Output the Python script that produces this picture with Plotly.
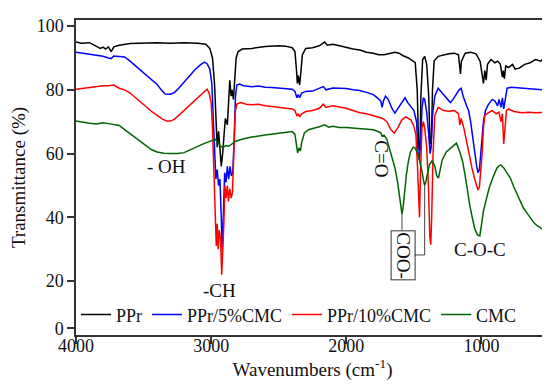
import plotly.graph_objects as go

# ---------------- data ----------------
ppr_wn = [4000, 3960, 3900, 3860, 3820, 3800, 3780, 3760, 3740, 3720, 3680, 3600, 3500, 3400, 3300, 3200,
          3100, 3040, 3010, 2990, 2975, 2965, 2955, 2945, 2935, 2925, 2915, 2905, 2895, 2880, 2870, 2862,
          2852, 2845, 2835, 2825, 2815, 2800, 2770, 2700, 2600, 2500, 2450, 2400, 2380, 2370, 2362, 2355,
          2345, 2335, 2325, 2300, 2250, 2200, 2160, 2140, 2100, 2050, 2000, 1950, 1900, 1850, 1800, 1760,
          1720, 1680, 1640, 1610, 1580, 1540, 1510, 1490, 1475, 1465, 1455, 1448, 1435, 1420, 1405, 1390,
          1380, 1370, 1362, 1350, 1320, 1280, 1240, 1200, 1170, 1160, 1155, 1148, 1120, 1080, 1040, 1010,
          995, 985, 975, 965, 955, 930, 900, 880, 860, 845, 838, 830, 820, 800, 770, 750, 720, 680, 640,
          600, 560, 530, 500]
ppr_t = [95.0, 94.6, 94.8, 94.0, 93.0, 93.4, 92.8, 93.5, 92.0, 93.5, 94.0, 94.5, 94.7, 94.8, 94.6, 94.8,
         94.6, 94.3, 93.0, 90.0, 82.0, 72.0, 62.0, 67.0, 60.0, 56.0, 60.0, 66.0, 71.0, 69.0, 76.0, 83.0,
         78.0, 80.0, 77.0, 84.0, 90.0, 92.0, 92.8, 93.0, 93.6, 93.8, 93.7, 93.2, 92.0, 87.0, 82.0, 84.5,
         81.5, 86.0, 91.0, 93.0, 93.2, 93.8, 95.0, 94.0, 94.3, 93.8, 93.2, 92.8, 92.5, 91.8, 91.5, 91.0,
         91.0, 91.3, 91.8, 91.5, 90.7, 90.0, 89.0, 88.5, 80.0, 62.0, 61.0, 78.0, 89.5, 90.5, 88.0, 78.0,
         63.0, 65.0, 80.0, 89.0, 90.5, 91.0, 91.3, 91.5, 91.0, 87.0, 85.0, 89.0, 91.5, 91.8, 91.3, 89.0,
         84.0, 82.0, 86.0, 83.0, 88.0, 89.5, 88.5, 89.0, 88.0, 84.0, 86.0, 83.5, 87.5, 87.0, 88.0, 86.5,
         86.8, 88.0, 88.5, 89.5, 89.0, 90.5, 90.0]

p5_wn = [4000, 3950, 3900, 3850, 3800, 3760, 3740, 3720, 3680, 3640, 3600, 3560, 3520, 3480, 3440, 3400,
         3370, 3340, 3300, 3270, 3240, 3200, 3160, 3120, 3080, 3050, 3030, 3010, 2995, 2985, 2975, 2965,
         2955, 2945, 2935, 2925, 2918, 2910, 2900, 2890, 2880, 2870, 2860, 2850, 2840, 2830, 2820, 2810,
         2790, 2760, 2700, 2650, 2600, 2550, 2500, 2450, 2400, 2380, 2365, 2355, 2345, 2330, 2300, 2250,
         2200, 2170, 2150, 2100, 2050, 2000, 1950, 1900, 1850, 1800, 1770, 1745, 1735, 1725, 1710, 1690,
         1660, 1640, 1620, 1590, 1565, 1545, 1520, 1500, 1480, 1468, 1460, 1452, 1440, 1430, 1420, 1405,
         1390, 1380, 1372, 1362, 1345, 1320, 1300, 1270, 1250, 1230, 1210, 1190, 1165, 1150, 1135, 1110,
         1095, 1080, 1065, 1050, 1035, 1025, 1015, 1005, 995, 985, 970, 950, 920, 900, 880, 870, 855,
         845, 835, 825, 810, 780, 720, 650, 600, 550, 500]
p5_t = [91.8, 91.5, 91.0, 90.8, 90.5, 90.0, 89.8, 90.6, 90.5, 90.3, 89.0, 87.5, 86.0, 84.5, 83.0, 81.7,
        80.0, 78.7, 78.6, 79.2, 80.5, 82.5, 84.5, 86.3, 87.8, 88.7, 88.2, 86.5, 82.0, 74.0, 62.0, 52.0,
        55.0, 50.0, 52.0, 40.0, 29.5, 40.0, 54.0, 51.0, 56.0, 52.0, 56.0, 53.0, 54.0, 64.0, 78.0, 81.5,
        81.8, 81.3, 81.0, 81.2, 80.8, 80.7, 80.5, 80.5, 80.2, 79.5, 77.5, 78.5, 77.5, 79.0, 79.5, 79.6,
        80.5, 81.0, 80.0, 80.6, 80.5, 80.4, 80.0, 79.8, 79.2, 78.5, 77.5, 76.5, 74.5, 76.5, 78.0, 77.0,
        74.0, 72.7, 74.0, 76.0, 77.5, 76.0, 74.5, 73.5, 70.0, 60.0, 58.0, 62.0, 74.0, 77.5, 77.0, 73.0,
        66.0, 60.0, 62.0, 72.0, 78.0, 80.5, 79.5, 78.0, 77.0, 76.0, 77.0, 78.5, 80.0, 80.5, 78.0, 75.0,
        73.5, 70.0, 65.0, 60.0, 56.0, 54.0, 55.0, 60.0, 66.0, 70.0, 73.5, 75.3, 77.0, 76.5, 75.0, 77.0,
        74.5, 77.5, 74.0, 76.5, 80.5, 80.8, 80.6, 80.3, 80.2, 80.0, 80.2]

p10_wn = [4000, 3950, 3900, 3850, 3800, 3760, 3720, 3680, 3640, 3600, 3560, 3520, 3480, 3440, 3400, 3360,
          3330, 3300, 3270, 3240, 3200, 3160, 3120, 3080, 3050, 3030, 3015, 3000, 2990, 2980, 2970, 2962,
          2955, 2948, 2940, 2930, 2922, 2914, 2906, 2898, 2890, 2880, 2872, 2862, 2852, 2842, 2832, 2822,
          2810, 2780, 2740, 2700, 2650, 2600, 2550, 2500, 2450, 2400, 2380, 2365, 2355, 2345, 2330, 2300,
          2250, 2200, 2170, 2150, 2100, 2050, 2000, 1950, 1900, 1850, 1800, 1760, 1730, 1700, 1670, 1645,
          1620, 1590, 1560, 1540, 1520, 1500, 1485, 1472, 1464, 1458, 1450, 1440, 1430, 1420, 1405, 1392,
          1382, 1375, 1368, 1358, 1345, 1320, 1280, 1240, 1200, 1170, 1160, 1150, 1130, 1110, 1090, 1070,
          1050, 1035, 1025, 1015, 1005, 995, 985, 975, 950, 920, 890, 870, 855, 845, 835, 828, 815, 800,
          760, 700, 650, 600, 550, 500]
p10_t = [80.2, 80.5, 80.8, 81.0, 81.3, 81.3, 81.5, 80.5, 80.0, 79.0, 77.5, 76.2, 74.8, 73.2, 72.0, 70.8,
         70.2, 70.2, 70.8, 72.0, 73.6, 75.2, 76.8, 78.2, 79.5, 80.2, 79.0, 76.0, 68.0, 55.0, 40.0, 31.0,
         38.0, 30.0, 36.0, 33.0, 22.0, 28.0, 38.0, 50.0, 46.0, 50.0, 45.0, 49.0, 46.0, 48.0, 60.0, 73.0,
         75.5, 76.0, 75.5, 75.3, 75.5, 75.0, 74.8, 74.6, 74.3, 74.0, 73.5, 71.8, 72.5, 71.5, 72.5, 73.2,
         73.5, 74.2, 75.5, 74.5, 75.0, 74.6, 74.2, 73.5, 72.8, 72.5, 72.0, 71.4, 71.0, 70.0, 67.5, 66.4,
         68.0, 70.5, 71.5, 71.0, 70.5, 68.5, 66.0, 55.0, 42.0, 40.0, 55.0, 68.0, 70.0, 68.0, 62.0, 50.0,
         34.0, 31.4, 40.0, 60.0, 72.0, 74.5, 73.5, 73.3, 73.5, 72.5, 69.0, 71.0, 68.0, 63.5, 60.0, 55.5,
         52.0, 49.5, 48.6, 49.5, 54.0, 60.0, 68.0, 72.0, 72.8, 73.5, 72.5, 73.0, 70.0, 72.5, 63.0, 68.0,
         73.5, 74.0, 73.2, 72.8, 73.0, 72.8, 72.9, 73.0]

cmc_wn = [4000, 3950, 3900, 3850, 3800, 3760, 3720, 3680, 3640, 3600, 3560, 3520, 3480, 3440, 3400, 3350,
          3300, 3250, 3200, 3150, 3100, 3050, 3000, 2970, 2950, 2930, 2910, 2890, 2870, 2850, 2820, 2780,
          2700, 2600, 2500, 2450, 2400, 2380, 2370, 2360, 2350, 2340, 2330, 2310, 2280, 2250, 2200, 2160,
          2130, 2100, 2050, 2000, 1950, 1900, 1850, 1800, 1770, 1745, 1735, 1720, 1700, 1680, 1660, 1640,
          1620, 1605, 1595, 1588, 1580, 1570, 1555, 1540, 1525, 1505, 1490, 1470, 1455, 1440, 1428, 1420,
          1412, 1400, 1385, 1365, 1345, 1330, 1318, 1305, 1290, 1260, 1230, 1185, 1160, 1140, 1120, 1104,
          1085, 1067, 1050, 1030, 1012, 1000, 985, 965, 942, 915, 885, 865, 855, 835, 810, 787, 760, 735,
          713, 690, 665, 640, 610, 585, 566, 540, 520, 500]
cmc_t = [70.2, 69.8, 69.5, 69.3, 69.7, 69.4, 69.2, 68.8, 67.5, 66.2, 64.8, 63.5, 62.3, 61.2, 60.5, 60.1,
         60.0, 60.0, 60.3, 61.3, 62.3, 63.2, 64.0, 64.5, 63.5, 62.2, 62.0, 62.5, 62.3, 63.0, 63.8, 64.4,
         65.2, 65.8, 66.4, 66.8, 66.9, 66.0, 63.5, 60.2, 61.8, 60.8, 63.5, 66.5, 67.5, 67.8, 68.4, 69.0,
         68.3, 68.6, 68.2, 68.2, 68.0, 67.8, 67.6, 67.5, 67.0, 66.5, 65.5, 65.8, 64.5, 61.5, 58.5, 55.5,
         51.0, 47.0, 43.0, 41.0, 43.0, 48.0, 53.5, 57.7, 60.5, 62.0, 61.7, 60.0, 57.5, 54.5, 51.5, 50.0,
         51.0, 54.0, 56.5, 57.8, 56.0, 53.0, 52.3, 55.0, 58.0, 60.5, 61.7, 63.3, 60.5, 57.7, 53.0, 48.2,
         43.5, 39.8, 36.5, 34.5, 34.2, 37.5, 42.0, 45.5, 49.3, 52.5, 55.5, 56.3, 56.4, 55.5, 54.0, 52.4,
         49.5, 47.0, 45.0, 43.0, 41.5, 39.8, 38.2, 37.3, 36.7, 36.0, 35.5, 35.0]

series_names = ["PPr", "PPr/5%CMC", "PPr/10%CMC", "CMC"]
series_colors = ["#000000", "#0000FF", "#FF0000", "#006400"]

x_ticks = [4000, 3000, 2000, 1000]
y_ticks = [20, 40, 60, 80, 100]

# ---------------- figure ----------------
FONT = "Liberation Serif, Times New Roman, serif"
fig = go.Figure()
for wn, t, name, col in zip([ppr_wn, p5_wn, p10_wn, cmc_wn], [ppr_t, p5_t, p10_t, cmc_t],
                            series_names, series_colors):
    fig.add_trace(go.Scatter(x=wn, y=t, mode="lines", name=name,
                             line=dict(color=col, width=1.5)))
# empty trace so that the label-carrying overlay x axis gets drawn
fig.add_trace(go.Scatter(x=[], y=[], xaxis="x2", showlegend=False, hoverinfo="skip"))

x_range = [4000, 500]
y_min, y_max = 3.1, 101.9
y_zero_label_pos = 5.2  # the "0" label sits at the bottom edge of the axis in the reference

# band labels
labels = [("- OH", 3330, 55.8, 0), ("-CH", 2939, 17.2, 0), ("C=O", 1738, 58.3, 90),
          ("C-O-C", 1008, 29.8, 0)]
for txt, xv, yv, ang in labels:
    fig.add_annotation(x=xv, y=yv, text=txt, showarrow=False, textangle=ang,
                       font=dict(family=FONT, size=19, color="#111"))

# COO- box with connectors to the two carboxylate bands of CMC
coo_x, coo_y = 1583, 28.2
coo_peak_wn = [1588, 1420]
coo_peak_t = [41.0, 50.0]
box_top, box_right = 36.1, 1497
fig.add_annotation(x=coo_x, y=coo_y, text="COO-", showarrow=False, textangle=90,
                   font=dict(family=FONT, size=19, color="#111"),
                   bordercolor="#333", borderwidth=1, borderpad=1)
fig.add_shape(type="line", x0=coo_peak_wn[0], x1=coo_peak_wn[0], y0=coo_peak_t[0], y1=box_top,
              line=dict(color="#444", width=1))
fig.add_shape(type="line", x0=coo_peak_wn[1], x1=coo_peak_wn[1], y0=coo_peak_t[1], y1=coo_y,
              line=dict(color="#444", width=1))
fig.add_shape(type="line", x0=coo_peak_wn[1], x1=box_right, y0=coo_y, y1=coo_y,
              line=dict(color="#444", width=1))

fig.update_layout(
    width=550, height=385,
    margin=dict(l=67, r=7, t=12, b=58),
    paper_bgcolor="white", plot_bgcolor="white",
    font=dict(family=FONT, size=18, color="#111"),
    showlegend=True,
    legend=dict(orientation="h", x=0.0, y=0.005, xanchor="left", yanchor="bottom",
                bgcolor="rgba(0,0,0,0)", font=dict(family=FONT, size=18, color="#111"),
                itemwidth=30, tracegroupgap=0),
    # main x axis: frame + outside tick marks
    xaxis=dict(range=x_range, tickvals=x_ticks, showgrid=False, zeroline=False,
               showline=True, mirror=True, linecolor="#333", linewidth=1.5,
               ticks="outside", ticklen=7, tickwidth=1.5, tickcolor="#333",
               showticklabels=False),
    # overlay x axis carrying the tick labels and the title, sitting a bit closer to the frame
    xaxis2=dict(overlaying="x", matches="x", range=x_range, tickvals=x_ticks,
                anchor="free", position=0.006, side="bottom",
                showgrid=False, zeroline=False, showline=False, ticks="",
                tickfont=dict(size=18),
                title=dict(text="Wavenumbers (cm<sup>-1</sup>)", font=dict(size=19), standoff=2)),
    yaxis=dict(range=[y_min, y_max], tickvals=[y_zero_label_pos] + y_ticks,
               ticktext=["0"] + [str(v) for v in y_ticks],
               showgrid=False, zeroline=False,
               showline=True, mirror=True, linecolor="#333", linewidth=1.5,
               ticks="outside", ticklen=7, tickwidth=1.5, tickcolor="#333",
               tickfont=dict(size=18),
               title=dict(text="Transmittance (%)", font=dict(size=19), standoff=8)),
)

fig.write_html("out.html")
